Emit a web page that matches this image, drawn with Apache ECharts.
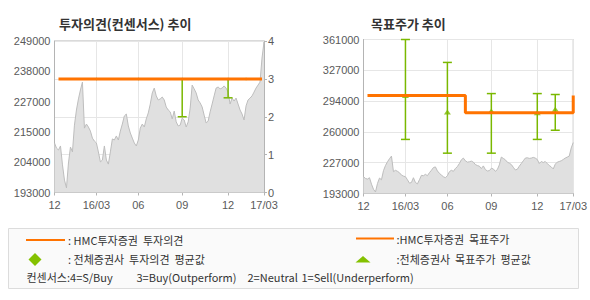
<!DOCTYPE html>
<html>
<head>
<meta charset="utf-8">
<script src="https://cdn.jsdelivr.net/npm/echarts@6/dist/echarts.min.js"></script>
<style>
html, body { margin: 0; padding: 0; background: #fff; }
#chart { width: 590px; height: 300px; }
</style>
</head>
<body>
<div id="chart"></div>
<script>
// x축 라벨 (일별 인덱스 위치)
var xTickIdx = [0, 21, 42, 64, 87, 105];
var xTickText = ['12', '16/03', '06', '09', '12', '17/03'];

// 주가 (두 차트 공통)
var price = [
    211300, 209400, 208700, 210200, 203200, 197600, 194700, 203900, 209800, 208000,
    217900, 223500, 227600, 230900, 233800, 216800, 218300, 217200, 215700, 213100,
    212000, 211300, 208000, 204300, 205000, 210200, 205000, 203500, 208000, 212800,
    212400, 213900, 212400, 215700, 218300, 221300, 222000, 217600, 215000, 213100,
    211300, 210200, 212400, 216800, 218300, 217200, 220200, 222400, 225700, 229800,
    231600, 228700, 227200, 227600, 228300, 227200, 224600, 223500, 222800, 220200,
    223100, 219100, 217600, 217900, 220500, 219800, 217200, 219100, 224200, 232700,
    231300, 229800, 227200, 226100, 224600, 221600, 218700, 219400, 222800, 225700,
    228700, 231600, 232000, 231300, 231600, 232400, 231600, 230100, 225700, 227900,
    226800, 227900, 225700, 223500, 222000, 219800, 225000, 227200, 227900, 228700,
    230100, 231600, 232700, 233800, 242700, 248600
];

// 투자의견: HMC투자증권 (시작/끝 인덱스, 값)
var hmcOpinion = [[2, 3], [104, 3]];
// 전체증권사 투자의견 [인덱스, 최저, 최고], 평균
var opRange = [[21, 3, 3], [42, 3, 3], [64, 2, 3], [87, 2.5, 3], [96, 3, 3]];
var opAvg = [[21, 3], [42, 3], [64, 3], [87, 3], [96, 3]];

// 목표주가: HMC투자증권 (변경 시점)
var hmcTarget = [[2, 300000], [51, 281000], [105, 300000]];
// 전체증권사 목표주가 [인덱스, 최저, 최고], 평균
var tpRange = [[21, 252000, 361000], [42, 237000, 336000], [64, 237000, 302000], [87, 252000, 302000], [96, 262000, 301000]];
var tpAvg = [[21, 300000], [42, 282000], [64, 283000], [87, 281000], [96, 285000]];

// y축 눈금
var leftTicks = [193000, 204200, 215400, 226600, 237800, 249000];
var leftTickText = ['193000', '204000', '215000', '227000', '238000', '249000'];
var rightTicks = [193000, 226600, 260200, 293800, 327400, 361000];
var rightTickText = ['193000', '227000', '260000', '294000', '327000', '361000'];

var ORANGE = '#ff7300';
var GREEN = '#7ab800';
var GRID = '#e6e6e6';
var BORDER = '#b4b4b4';
var LABEL = '#5a5a5a';
var KR = '"Noto Sans CJK KR", sans-serif';

var cats = [];
for (var i = 0; i < price.length; i++) cats.push(String(i));

function isTick(index) {
    return xTickIdx.indexOf(index) >= 0;
}

function xAxisOf(g) {
    return {
        type: 'category', gridIndex: g, data: cats, boundaryGap: false,
        axisLine: { lineStyle: { color: BORDER } },
        axisTick: { interval: isTick, length: 3, lineStyle: { color: BORDER } },
        axisLabel: {
            interval: isTick, color: LABEL, fontSize: 11, fontFamily: 'Liberation Sans', margin: 7,
            formatter: function (v) { return xTickText[xTickIdx.indexOf(Number(v))]; }
        },
        splitLine: { show: true, interval: isTick, lineStyle: { color: GRID } }
    };
}

function priceAxis(g, ticks, texts, min, max) {
    return {
        type: 'value', gridIndex: g, position: 'left', min: min, max: max,
        axisLine: { show: true, lineStyle: { color: BORDER } },
        axisTick: { show: false },
        splitLine: { show: false },
        axisLabel: {
            customValues: ticks, color: LABEL, fontSize: 11, fontFamily: 'Liberation Sans', margin: 4,
            formatter: function (v) { return texts[ticks.indexOf(v)]; }
        }
    };
}

function renderBar(params, api) {
    var idx = api.value(0);
    var lo = api.coord([idx, api.value(1)]);
    var hi = api.coord([idx, api.value(2)]);
    var w = 4.5;
    var st = { stroke: GREEN, lineWidth: 1.5 };
    return {
        type: 'group',
        children: [
            { type: 'line', shape: { x1: lo[0], y1: lo[1], x2: hi[0], y2: hi[1] }, style: st },
            { type: 'line', shape: { x1: lo[0] - w, y1: lo[1], x2: lo[0] + w, y2: lo[1] }, style: st },
            { type: 'line', shape: { x1: hi[0] - w, y1: hi[1], x2: hi[0] + w, y2: hi[1] }, style: st }
        ]
    };
}

var myChart = echarts.init(document.getElementById('chart'), null, { renderer: 'svg' });

var option = {
    animation: false,
    title: [
        { text: '투자의견(컨센서스) 추이', left: 54, top: 12, textStyle: { fontFamily: KR, fontSize: 13, fontWeight: 'bold', color: '#333' } },
        { text: '목표주가 추이', left: 366, top: 12, textStyle: { fontFamily: KR, fontSize: 13, fontWeight: 'bold', color: '#333' } }
    ],
    grid: [
        { left: 54.5, right: 326, top: 41, bottom: 107.5, show: true, borderColor: BORDER, borderWidth: 1 },
        { left: 363.5, right: 16.5, top: 39.5, bottom: 106.5, show: true, borderColor: BORDER, borderWidth: 1 }
    ],
    xAxis: [xAxisOf(0), xAxisOf(1)],
    yAxis: [
        priceAxis(0, leftTicks, leftTickText, 193000, 249000),
        {
            type: 'value', gridIndex: 0, position: 'right', min: 0, max: 4, interval: 1,
            axisLine: { show: true, lineStyle: { color: BORDER } },
            axisTick: { show: true, length: 3, lineStyle: { color: BORDER } },
            axisLabel: { color: LABEL, fontSize: 11, fontFamily: 'Liberation Sans', margin: 4 },
            splitLine: { show: true, lineStyle: { color: GRID } }
        },
        priceAxis(1, rightTicks, rightTickText, 193000, 361000),
        {
            type: 'value', gridIndex: 1, position: 'right', min: 0, max: 5, interval: 1,
            axisLine: { show: false }, axisTick: { show: false }, axisLabel: { show: false },
            splitLine: { show: true, lineStyle: { color: GRID } }
        }
    ],
    series: [
        {
            type: 'line', xAxisIndex: 0, yAxisIndex: 0, data: price, symbol: 'none', z: 1,
            lineStyle: { color: '#bdbdbd', width: 1 }, areaStyle: { color: '#e0e0e0', opacity: 1 }
        },
        {
            type: 'custom', xAxisIndex: 0, yAxisIndex: 1, data: opRange, renderItem: renderBar,
            encode: { x: 0, y: [1, 2] }, z: 2
        },
        {
            type: 'scatter', xAxisIndex: 0, yAxisIndex: 1, data: opAvg, symbol: 'diamond',
            symbolSize: 3, itemStyle: { color: GREEN }, z: 2
        },
        {
            type: 'line', xAxisIndex: 0, yAxisIndex: 1, data: hmcOpinion, symbol: 'none', z: 3,
            lineStyle: { color: ORANGE, width: 3 }
        },
        {
            type: 'line', xAxisIndex: 1, yAxisIndex: 2, data: price, symbol: 'none', z: 1,
            lineStyle: { color: '#bdbdbd', width: 1 }, areaStyle: { color: '#e0e0e0', opacity: 1 }
        },
        {
            type: 'custom', xAxisIndex: 1, yAxisIndex: 2, data: tpRange, renderItem: renderBar,
            encode: { x: 0, y: [1, 2] }, z: 2
        },
        {
            type: 'scatter', xAxisIndex: 1, yAxisIndex: 2, data: tpAvg, symbol: 'triangle',
            symbolSize: [7, 5], itemStyle: { color: GREEN }, z: 2
        },
        {
            type: 'line', xAxisIndex: 1, yAxisIndex: 2, data: hmcTarget, symbol: 'none', step: 'end', z: 3,
            lineStyle: { color: ORANGE, width: 3 }
        }
    ],
    graphic: [
        {
            type: 'rect', shape: { x: 8.5, y: 228.5, width: 570, height: 60 },
            style: { fill: '#fafafa', stroke: '#dcdcdc', lineWidth: 1 }, z: -1
        },
        { type: 'line', shape: { x1: 26, y1: 240, x2: 65, y2: 240 }, style: { stroke: ORANGE, lineWidth: 2 } },
        { type: 'text', x: 68, y: 240, style: { text: ': HMC투자증권  투자의견', fill: '#333', font: '11px ' + KR, textVerticalAlign: 'middle' } },
        { type: 'polygon', shape: { points: [[35, 253], [41.5, 259.5], [35, 266], [28.5, 259.5]] }, style: { fill: '#84c100' } },
        { type: 'text', x: 68, y: 259, style: { text: ': 전체증권사  투자의견  평균값', fill: '#333', font: '11px ' + KR, textVerticalAlign: 'middle' } },
        { type: 'text', x: 26.5, y: 277, style: { text: '컨센서스:4=S/Buy', fill: '#333', font: '11px ' + KR, textVerticalAlign: 'middle' } },
        { type: 'text', x: 136.5, y: 277, style: { text: '3=Buy(Outperform)', fill: '#333', font: '11px ' + KR, textVerticalAlign: 'middle' } },
        { type: 'text', x: 247.5, y: 277, style: { text: '2=Neutral', fill: '#333', font: '11px ' + KR, textVerticalAlign: 'middle' } },
        { type: 'text', x: 301.5, y: 277, style: { text: '1=Sell(Underperform)', fill: '#333', font: '11px ' + KR, textVerticalAlign: 'middle' } },
        { type: 'line', shape: { x1: 356, y1: 238.5, x2: 394, y2: 238.5 }, style: { stroke: ORANGE, lineWidth: 2 } },
        { type: 'text', x: 396.5, y: 239, style: { text: ':HMC투자증권  목표주가', fill: '#333', font: '11px ' + KR, textVerticalAlign: 'middle' } },
        { type: 'polygon', shape: { points: [[363, 256], [370.5, 262.5], [355.5, 262.5]] }, style: { fill: '#84c100' } },
        { type: 'text', x: 396.5, y: 259, style: { text: ':전체증권사  목표주가  평균값', fill: '#333', font: '11px ' + KR, textVerticalAlign: 'middle' } }
    ]
};

myChart.setOption(option);
</script>
</body>
</html>
